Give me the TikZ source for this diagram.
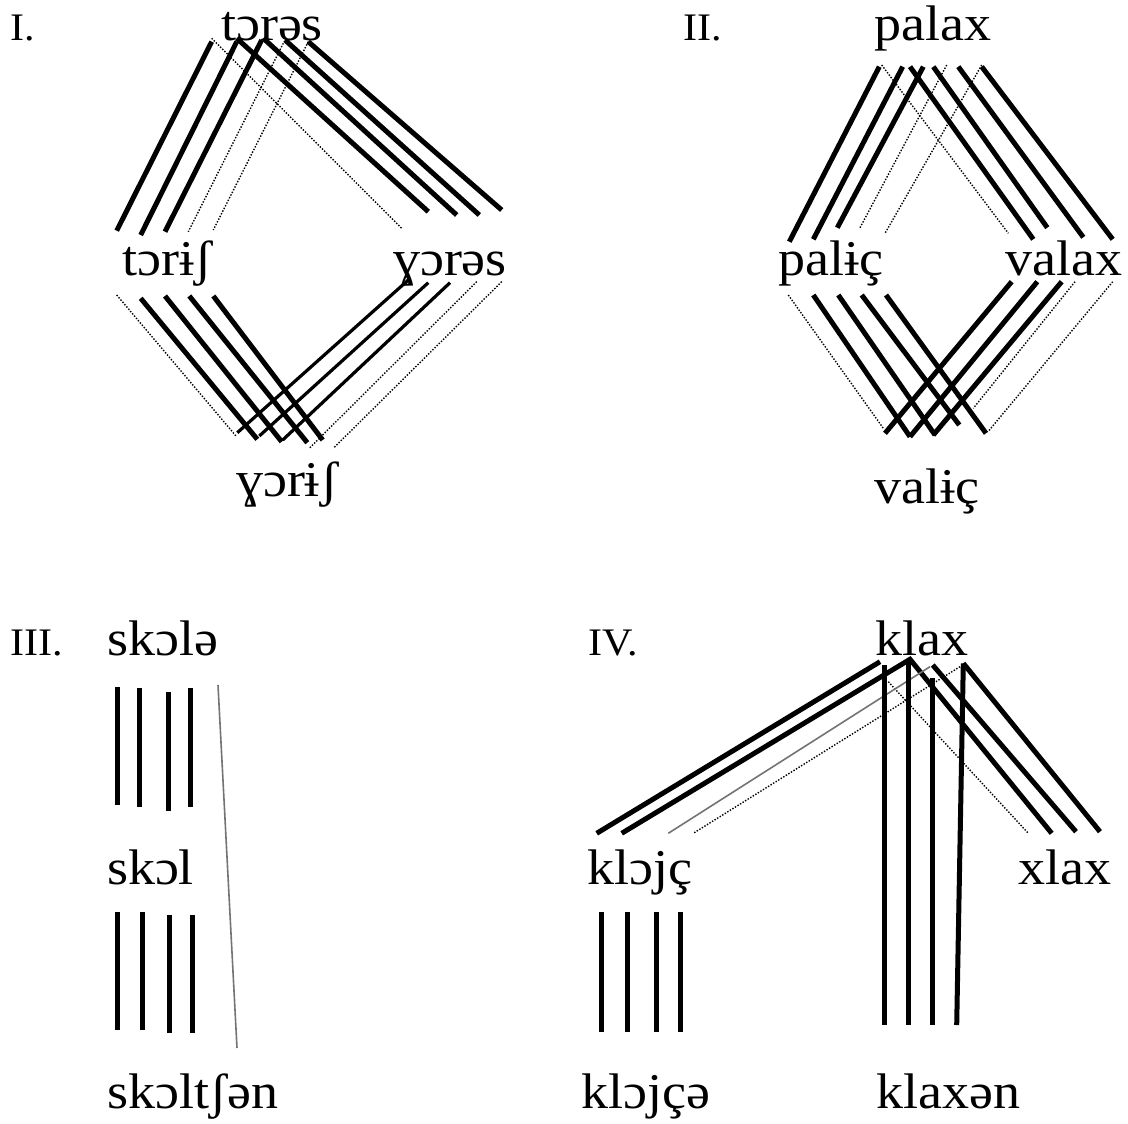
\documentclass[tikz,border=0pt]{standalone}
\usepackage{fontspec}
\setmainfont{Liberation Serif}[FakeStretch=1.08]

\begin{document}
\begin{tikzpicture}[x=1pt, y=-1pt,
  word/.style={font=\fontsize{50}{56}\selectfont, inner sep=0pt, anchor=base},
  numeral/.style={font=\fontsize{39}{44}\selectfont, inner sep=0pt, anchor=base west},
  assoc/.style={line width=5pt},
  weakassoc/.style={line width=3.2pt},
  lost/.style={line width=1.4pt, dash pattern=on 1.4pt off 1.6pt},
  faded/.style={line width=1.6pt, black!55}]

\useasboundingbox (0,0) rectangle (1128,1124);

% Panel numbers
\node[numeral] (numI) at (10,41) {I.};
\node[numeral] (numII) at (683,41) {II.};
\node[numeral] (numIII) at (10,655) {III.};
\node[numeral] (numIV) at (588,655) {IV.};

% Panel I words
\node[word] (toras) at (272,41) {tɔrəs};
\node[word] (torish) at (167,275) {tɔrɨʃ};
\node[word] (yoras) at (450,275) {ɣɔrəs};
\node[word] (yorish) at (287,496) {ɣɔrɨʃ};

% Panel II words
\node[word] (palax) at (933,41) {palax};
\node[word] (palic) at (831,275) {palɨç};
\node[word] (valax) at (1064,275) {valax};
\node[word] (valic) at (927,503) {valɨç};

% Panel III words
\node[word] (skola) at (163,655) {skɔlə};
\node[word] (skol) at (150.5,884) {skɔl};
\node[word] (skoltsen) at (193,1108) {skɔltʃən};

% Panel IV words
\node[word] (klax) at (921.5,655) {klax};
\node[word] (klojc) at (640,884) {klɔjç};
\node[word] (xlax) at (1065,884) {xlax};
\node[word] (klojce) at (645.5,1108) {klɔjçə};
\node[word] (klaxen) at (948.5,1108) {klaxən};

% Panel I: upper bundles
\foreach \xa/\ya/\xb/\yb in {211.7/41.7/116.7/230.7, 236.7/41.7/140.7/235,
    261.7/40/165/231.7, 236.7/38.3/428.3/211.7, 263.3/38.3/456.7/215,
    285/40/479.3/215, 308.3/41.7/501.7/210}
  \draw[assoc] (\xa,\ya) -- (\xb,\yb);
\foreach \xa/\ya/\xb/\yb in {283.3/43.3/188.3/231.7, 308.3/41.7/213.3/230,
    211.7/38.3/401.7/228.3}
  \draw[lost] (\xa,\ya) -- (\xb,\yb);

% Panel I: lower bundles
\foreach \xa/\ya/\xb/\yb in {140.7/298.3/257.3/439.3, 165/296/281.7/441.7,
    189.3/296/307.3/442.7, 213.3/296/322.7/440}
  \draw[assoc] (\xa,\ya) -- (\xb,\yb);
\foreach \xa/\ya/\xb/\yb in {408.3/280/237.3/432.7, 428.3/282.7/259.3/436,
    450/282.7/282.7/440}
  \draw[weakassoc] (\xa,\ya) -- (\xb,\yb);
\foreach \xa/\ya/\xb/\yb in {116.7/295/236/436, 476.7/281.7/309.3/448.3,
    501.7/281.7/333.3/448.3}
  \draw[lost] (\xa,\ya) -- (\xb,\yb);

% Panel II: upper bundles
\foreach \xa/\ya/\xb/\yb in {879.3/66.7/789.3/241.7, 902.7/66.7/813.3/239.3,
    923.3/66.7/837.3/227.7, 910/66.7/1033.3/239.3, 933.3/66.7/1047.3/227.7,
    958.3/66.7/1083.3/237.3, 981.7/66.7/1112.7/239.3}
  \draw[assoc] (\xa,\ya) -- (\xb,\yb);
\foreach \xa/\ya/\xb/\yb in {946.7/65/860/227.7, 981.7/65/885/233.3,
    881.7/65/1008.3/233.3}
  \draw[lost] (\xa,\ya) -- (\xb,\yb);

% Panel II: lower bundles
\foreach \xa/\ya/\xb/\yb in {813.3/295/910/436.7, 838.3/295/935/435,
    861.7/295/959.3/425, 886/295/986/433.3, 1011.7/281.7/885/433.3,
    1037.3/281.7/910/436.7, 1061.7/281.7/933.3/435}
  \draw[assoc] (\xa,\ya) -- (\xb,\yb);
\foreach \xa/\ya/\xb/\yb in {788.3/295/883.3/428.3, 1075/281.7/973.3/408.3,
    1112.7/281.7/988/431.7}
  \draw[lost] (\xa,\ya) -- (\xb,\yb);

% Panel III: straight bars
\foreach \x/\ya/\yb in {117/687/805, 139/688/807, 168/692/811, 190/688/807,
    117/912/1030, 142/912/1030, 169/915/1033, 192/915/1033}
  \draw[assoc] (\x,\ya) -- (\x,\yb);
\draw[faded] (218,685) -- (237,1048);

% Panel IV: klax to its neighbours
\draw[assoc] (880,661.7) -- (596.7,833.3);
\draw[assoc] (621.7,833.3) -- (910,659.3) -- (1051.7,833.3);
\draw[assoc] (932.7,665) -- (1076,831.7);
\draw[assoc] (963.3,663.3) -- (1100,831.7);
\draw[lost] (888.3,681.7) -- (1028.3,833.3);
\draw[lost] (960,666.7) -- (693.3,833.3);
\draw[faded] (930,666.7) -- (668.3,833.3);

% Panel IV: vertical bars
\foreach \xa/\ya/\xb/\yb in {884/665/884/1025, 908.3/661.7/908.3/1025,
    932.7/678.3/932.7/1025, 963.3/663.3/956.7/1025,
    601.7/911.7/601.7/1031.7, 627.7/911.7/627.7/1031.7,
    656.7/911.7/656.7/1031.7, 680.7/911.7/680.7/1031.7}
  \draw[assoc] (\xa,\ya) -- (\xb,\yb);

\end{tikzpicture}
\end{document}
